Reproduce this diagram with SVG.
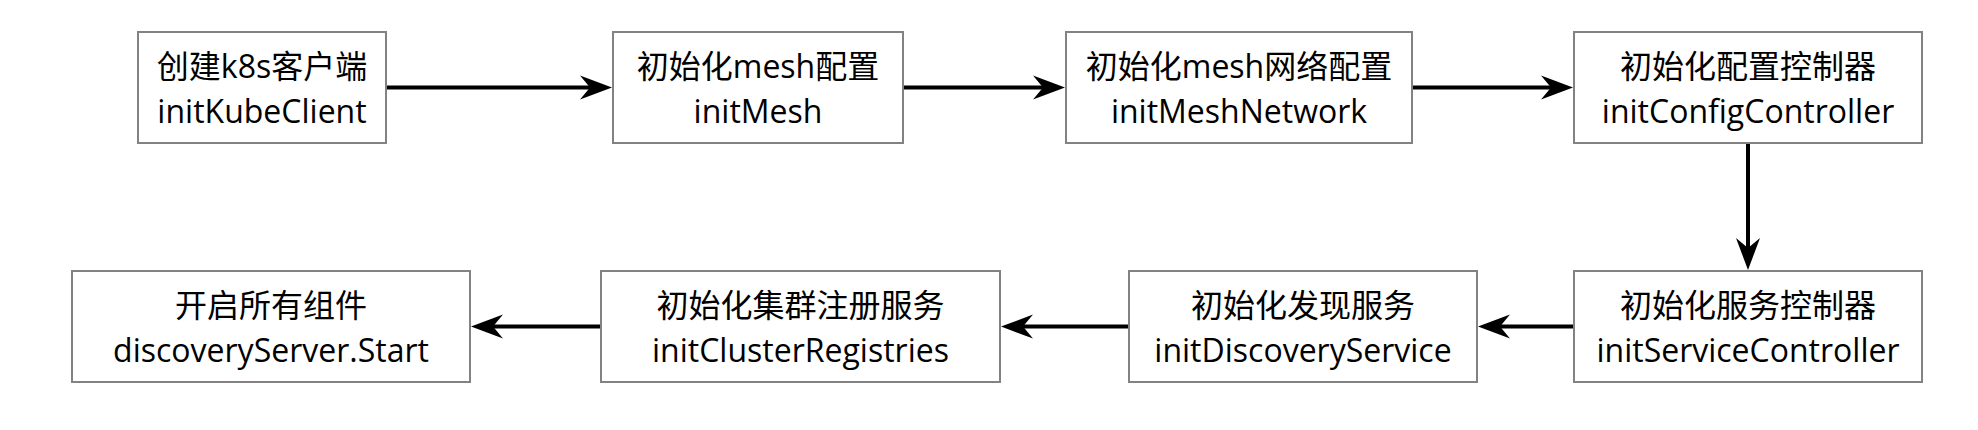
<svg xmlns="http://www.w3.org/2000/svg" width="1978" height="430" viewBox="0 0 1978 430">
<defs>
<style>
.box{fill:#ffffff;stroke:#828282;stroke-width:2}
.t{font-family:"Open Sans","Noto Sans CJK SC",sans-serif;fill:#000000;text-anchor:middle}
.cn{font-size:32px}
.en{font-size:32px}
.edge{stroke:#000000;stroke-width:4;fill:none;marker-end:url(#arr)}
</style>
<marker id="arr" markerUnits="userSpaceOnUse" viewBox="-11 -13 34 26" refX="0" refY="0" markerWidth="34" markerHeight="26" orient="auto">
<path d="M22,0 L-10,-12 L0,0 L-10,12 Z" fill="#000000"/>
</marker>
</defs>
<rect width="1978" height="430" fill="#ffffff"/>
<g id="connectors">
<line class="edge" x1="386" y1="87.5" x2="590" y2="87.5"/>
<line class="edge" x1="903" y1="87.5" x2="1043" y2="87.5"/>
<line class="edge" x1="1412" y1="87.5" x2="1551" y2="87.5"/>
<line class="edge" x1="1748" y1="143" x2="1748" y2="248"/>
<line class="edge" x1="1574" y1="326.5" x2="1500" y2="326.5"/>
<line class="edge" x1="1129" y1="326.5" x2="1023" y2="326.5"/>
<line class="edge" x1="601" y1="326.5" x2="493" y2="326.5"/>
</g>
<g id="n1">
<rect class="box" x="138" y="32" width="248" height="111"/>
<text class="t cn" x="262" y="78">创建k8s客户端</text>
<text class="t en" x="262" y="122.5">initKubeClient</text>
</g>
<g id="n2">
<rect class="box" x="613" y="32" width="290" height="111"/>
<text class="t cn" x="758" y="78">初始化mesh配置</text>
<text class="t en" x="758" y="122.5">initMesh</text>
</g>
<g id="n3">
<rect class="box" x="1066" y="32" width="346" height="111"/>
<text class="t cn" x="1239" y="78">初始化mesh网络配置</text>
<text class="t en" x="1239" y="122.5">initMeshNetwork</text>
</g>
<g id="n4">
<rect class="box" x="1574" y="32" width="348" height="111"/>
<text class="t cn" x="1748" y="78">初始化配置控制器</text>
<text class="t en" x="1748" y="122.5">initConfigController</text>
</g>
<g id="n5">
<rect class="box" x="1574" y="271" width="348" height="111"/>
<text class="t cn" x="1748" y="317">初始化服务控制器</text>
<text class="t en" x="1748" y="361.5">initServiceController</text>
</g>
<g id="n6">
<rect class="box" x="1129" y="271" width="348" height="111"/>
<text class="t cn" x="1303" y="317">初始化发现服务</text>
<text class="t en" x="1303" y="361.5">initDiscoveryService</text>
</g>
<g id="n7">
<rect class="box" x="601" y="271" width="399" height="111"/>
<text class="t cn" x="800.5" y="317">初始化集群注册服务</text>
<text class="t en" x="800.5" y="361.5">initClusterRegistries</text>
</g>
<g id="n8">
<rect class="box" x="72" y="271" width="398" height="111"/>
<text class="t cn" x="271" y="317">开启所有组件</text>
<text class="t en" x="271" y="361.5">discoveryServer.Start</text>
</g>
</svg>
